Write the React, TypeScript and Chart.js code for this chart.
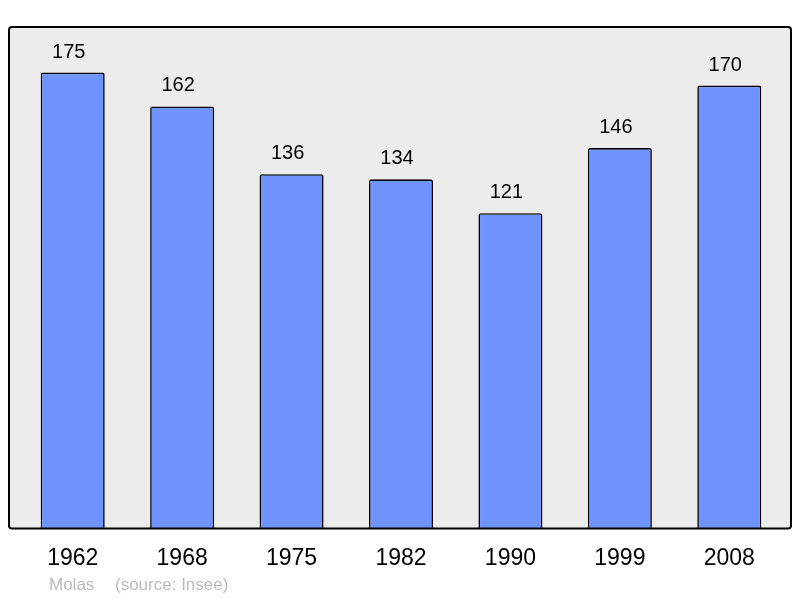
import { Chart, registerables } from 'chart.js';
import { useEffect, useRef } from 'react';

Chart.register(...registerables);

const years = ['1962', '1968', '1975', '1982', '1990', '1999', '2008'];
const population = [175, 162, 136, 134, 121, 146, 170];
const footerPlace = 'Molas';
const footerSource = '(source: Insee)';

function roundRect(ctx: CanvasRenderingContext2D, x: number, y: number, w: number, h: number, r: number) {
  ctx.beginPath();
  ctx.moveTo(x + r, y);
  ctx.lineTo(x + w - r, y);
  ctx.arcTo(x + w, y, x + w, y + r, r);
  ctx.lineTo(x + w, y + h - r);
  ctx.arcTo(x + w, y + h, x + w - r, y + h, r);
  ctx.lineTo(x + r, y + h);
  ctx.arcTo(x, y + h, x, y + h - r, r);
  ctx.lineTo(x, y + r);
  ctx.arcTo(x, y, x + r, y, r);
  ctx.closePath();
}

const panelPlugin = {
  id: 'panel',
  beforeDatasetsDraw(chart: any) {
    const { ctx, chartArea } = chart;
    const x = chartArea.left - 9;
    const w = chartArea.right + 7 - x;
    ctx.save();
    roundRect(ctx, x, chartArea.top, w, chartArea.bottom - chartArea.top, 3);
    ctx.fillStyle = '#ececec';
    ctx.fill();
    ctx.restore();
  },
  afterDatasetsDraw(chart: any) {
    const { ctx, chartArea } = chart;
    const x = chartArea.left - 9;
    const w = chartArea.right + 7 - x;
    ctx.save();
    roundRect(ctx, x, chartArea.top, w, chartArea.bottom - chartArea.top, 3);
    ctx.lineWidth = 2;
    ctx.strokeStyle = '#000';
    ctx.stroke();

    // value labels (sit a little left of bar centre, as in the source)
    const meta = chart.getDatasetMeta(0);
    ctx.fillStyle = '#000';
    ctx.font = '20px "Liberation Sans", Arial, sans-serif';
    ctx.textAlign = 'center';
    ctx.textBaseline = 'alphabetic';
    meta.data.forEach((bar: any, i: number) => {
      ctx.fillText(String(population[i]), bar.x - 4, bar.y - 15);
    });

    // footer
    ctx.fillStyle = '#bbbbbb';
    ctx.font = '17px "Liberation Sans", Arial, sans-serif';
    ctx.textAlign = 'left';
    ctx.fillText(footerPlace, 49, 590);
    ctx.fillText(footerSource, 115, 590);
    ctx.restore();
  },
};

export default function App() {
  const canvasRef = useRef<HTMLCanvasElement | null>(null);

  useEffect(() => {
    const chart = new Chart(canvasRef.current as HTMLCanvasElement, {
      type: 'bar',
      data: {
        labels: years,
        datasets: [
          {
            data: population,
            backgroundColor: '#7094ff',
            borderColor: '#000',
            borderWidth: 1.6,
            borderSkipped: 'bottom',
            borderRadius: 2,
            barPercentage: 0.585,
            categoryPercentage: 1,
          },
        ],
      },
      options: {
        animation: false,
        responsive: false,
        maintainAspectRatio: false,
        layout: { padding: { top: 27, left: 18, right: 16, bottom: 10 } },
        plugins: { legend: { display: false }, tooltip: { enabled: false } },
        scales: {
          x: {
            grid: { display: false, drawTicks: false },
            border: { display: false },
            ticks: {
              color: '#000',
              padding: 16,
              font: { size: 23, family: '"Liberation Sans", Arial, sans-serif' },
            },
          },
          y: {
            display: false,
            min: 0,
            max: 192.5,
          },
        },
      },
      plugins: [panelPlugin],
    });
    return () => chart.destroy();
  }, []);

  return (
    <div style={{ position: 'absolute', left: 0, top: 0, width: 800, height: 598, background: '#fff' }}>
      <canvas ref={canvasRef} width={800} height={598} />
    </div>
  );
}
